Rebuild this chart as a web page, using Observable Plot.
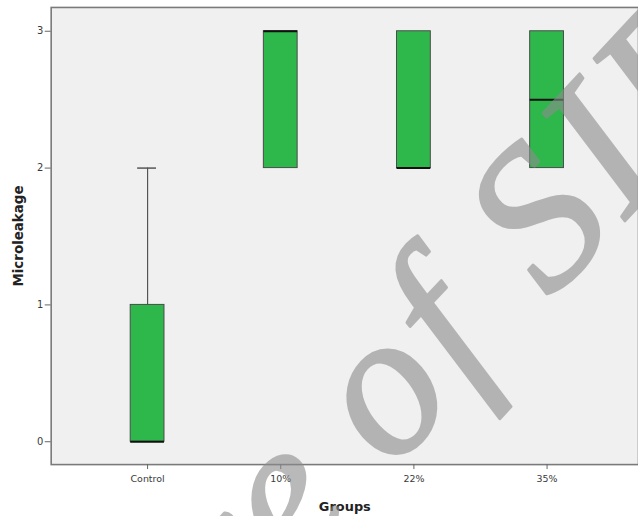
<!DOCTYPE html>
<html>
<head>
<meta charset="utf-8">
<script src="https://cdn.jsdelivr.net/npm/d3@7"></script>
<script src="https://cdn.jsdelivr.net/npm/@observablehq/plot@0.6"></script>
<style>
  html, body { margin: 0; padding: 0; background: #ffffff; overflow: hidden; }
  #chart { width: 638px; height: 516px; overflow: hidden; }
</style>
</head>
<body>
<div id="chart"></div>
<script>
const groups = ["Control", "10%", "22%", "35%"];
const lowWhisker = [0, 2, 2, 2];
const q1 = [0, 2, 2, 2];
const median = [0, 3, 2, 2.5];
const q3 = [1, 3, 3, 3];
const highWhisker = [2, 3, 3, 3];
const yTicks = [0, 1, 2, 3];
const xTitle = "Groups";
const yTitle = "Microleakage";

const data = groups.map((g, i) => ({
  group: g, lo: lowWhisker[i], q1: q1[i], median: median[i], q3: q3[i], hi: highWhisker[i]
}));
const upper = data.filter(d => d.hi > d.q3);
const lower = data.filter(d => d.lo < d.q1);

const plot = Plot.plot({
  width: 642,
  height: 516,
  marginLeft: 51,
  marginRight: 0,
  marginTop: 7,
  marginBottom: 49,
  style: { fontFamily: "'DejaVu Sans', sans-serif", fontSize: "10px", color: "#3a3a3a", background: "transparent", overflow: "visible" },
  x: { type: "band", domain: groups, range: [81, 617], padding: 0, label: null },
  y: { domain: [-0.167, 3.174], label: null },
  marks: [
    Plot.frame({ fill: "#f0f0f0", stroke: "#7a7a7a", strokeWidth: 1.6 }),
    Plot.axisX({ tickSize: 5, tickPadding: 6, stroke: "#666", fontSize: 9.5, label: null }),
    Plot.axisY({ ticks: yTicks, tickFormat: d3.format("d"), tickSize: 6, tickPadding: 2, stroke: "#666", fontSize: 10, label: null }),
    Plot.ruleX(upper, { x: "group", y1: "q3", y2: "hi", stroke: "#555", strokeWidth: 1.2 }),
    Plot.tickY(upper, { x: "group", y: "hi", stroke: "#555", strokeWidth: 1.5, insetLeft: 57, insetRight: 58 }),
    Plot.ruleX(lower, { x: "group", y1: "lo", y2: "q1", stroke: "#555", strokeWidth: 1.2 }),
    Plot.tickY(lower, { x: "group", y: "lo", stroke: "#555", strokeWidth: 1.5, insetLeft: 57, insetRight: 58 }),
    Plot.barY(data, { x: "group", y1: "q1", y2: "q3", fill: "#2eb84b", stroke: "#4a4a4a", strokeWidth: 1, insetLeft: 50, insetRight: 50 }),
    Plot.tickY(data, { x: "group", y: "median", stroke: "#111", strokeWidth: 2, insetLeft: 50, insetRight: 50 }),
    Plot.text([xTitle], { frameAnchor: "bottom", text: d => d, dy: 47, fontWeight: "bold", fontSize: 13, fill: "#222" }),
    Plot.text([yTitle], { frameAnchor: "left", text: d => d, rotate: -90, textAnchor: "middle", dx: -33, fontWeight: "bold", fontSize: 13.5, fill: "#222" })
  ]
});

// watermark overlay
const svg = d3.select(plot);
const wm = svg.append("g")
  .attr("transform", "translate(394,474) rotate(-47)")
  .attr("fill", "rgb(140,140,140)")
  .attr("stroke", "rgb(140,140,140)")
  .attr("stroke-width", 3)
  .attr("stroke-linejoin", "round")
  .attr("opacity", 0.6)
  .style("font-family", "'Liberation Serif', 'DejaVu Serif', serif")
  .style("font-style", "italic")
  .style("font-size", "205px");
wm.append("text").attr("x", -52).attr("text-anchor", "end").text("Archive");
wm.append("text").attr("x", 0).attr("text-anchor", "start").style("letter-spacing", "8px").text("of SID");

document.getElementById("chart").appendChild(plot);
</script>
</body>
</html>
